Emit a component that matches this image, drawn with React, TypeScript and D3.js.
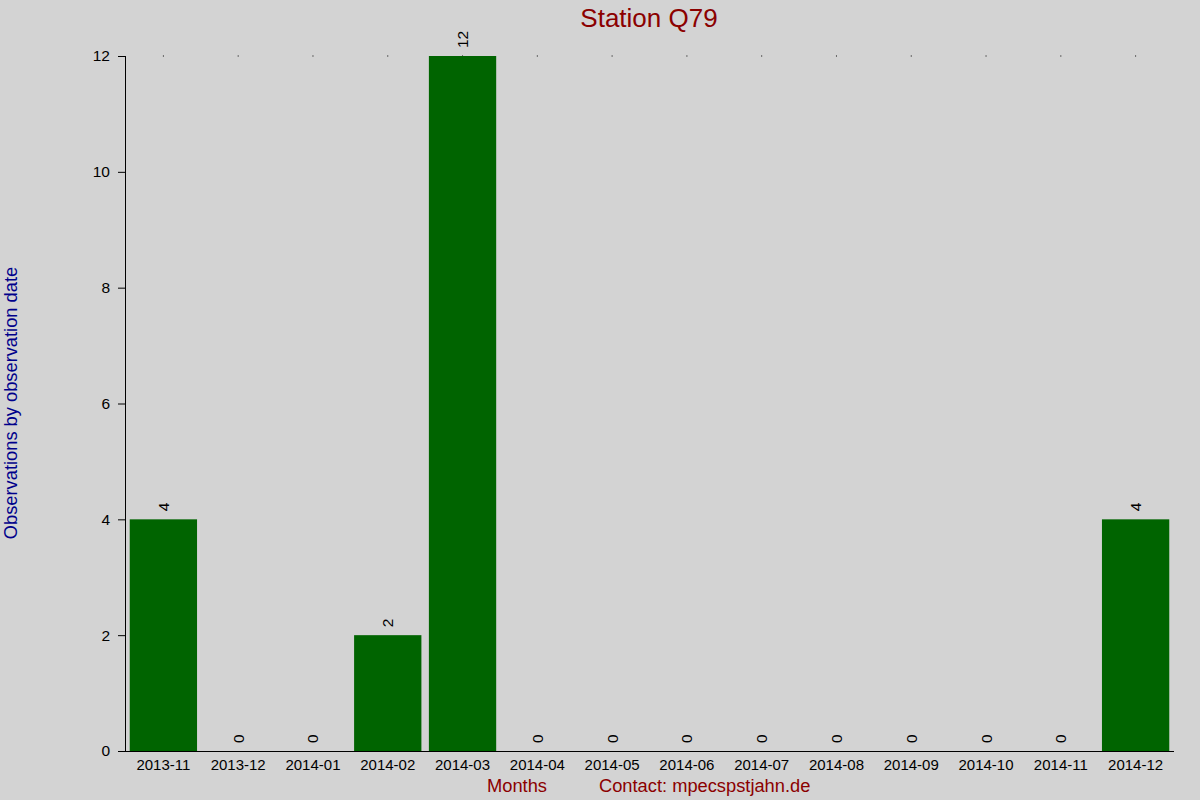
import { useEffect, useRef } from 'react'
import * as d3 from 'd3'

// monthly observation counts for station Q79
const MONTHS = [
  '2013-11', '2013-12', '2014-01', '2014-02', '2014-03', '2014-04', '2014-05',
  '2014-06', '2014-07', '2014-08', '2014-09', '2014-10', '2014-11', '2014-12',
]
const COUNTS = [4, 0, 0, 2, 12, 0, 0, 0, 0, 0, 0, 0, 0, 4]
const Y_TICKS = [0, 2, 4, 6, 8, 10, 12]

const FONT = 'Liberation Sans, Arial, sans-serif'

export default function App() {
  const svgRef = useRef<SVGSVGElement>(null)

  useEffect(() => {
    const svgEl = svgRef.current
    if (!svgEl) return
    const totalW = 1200
    const totalH = 800
    const margin = { top: 56, right: 27, bottom: 49, left: 126 }
    const W = totalW - margin.left - margin.right
    const H = totalH - margin.top - margin.bottom

    const root = d3.select(svgEl)
    root.selectAll('*').remove()
    root.attr('width', totalW).attr('height', totalH)

    root.append('rect').attr('width', totalW).attr('height', totalH).attr('fill', '#d3d3d3')

    const svg = root.append('g').attr('transform', `translate(${margin.left},${margin.top})`)

    const x = d3.scaleBand<string>().domain(MONTHS).range([0, W]).paddingInner(0.1).paddingOuter(0.05)
    const y = d3.scaleLinear().domain([0, 12]).range([H, 0])

    const data = MONTHS.map((m, i) => ({ m, v: COUNTS[i] }))

    // little dots at the top of each band
    svg.selectAll('.dot').data(data).enter().append('rect')
      .attr('x', d => x(d.m)! + x.bandwidth() / 2 - 0.5).attr('y', y(12) - 0.5)
      .attr('width', 1).attr('height', 1).attr('fill', '#000')

    svg.selectAll('.bar').data(data).enter().append('rect')
      .attr('x', d => x(d.m)!).attr('y', d => y(d.v))
      .attr('width', x.bandwidth()).attr('height', d => H - y(d.v))
      .attr('fill', '#006400')

    svg.selectAll('.val').data(data).enter().append('text')
      .attr('transform', d => `translate(${x(d.m)! + x.bandwidth() / 2 + 5.5},${y(d.v) - 8}) rotate(-90)`)
      .attr('font-family', FONT).attr('font-size', 15.5).attr('fill', '#000')
      .text(d => d.v)

    // axes
    svg.append('g')
      .attr('transform', `translate(0,${H})`)
      .call(d3.axisBottom(x).tickSize(0))
      .call(ax => {
        ax.select('.domain').attr('d', `M-8,0.5H${W + 1}`).attr('stroke', '#000')
        ax.selectAll('.tick text').attr('font-family', FONT).attr('font-size', 15)
          .attr('fill', '#000').attr('dy', '1.05em')
      })
    svg.append('g')
      .call(d3.axisLeft(y).tickValues(Y_TICKS).tickSize(8).tickSizeOuter(0))
      .call(ax => {
        ax.select('.domain').attr('d', `M-0.5,${H}V0`).attr('stroke', '#000')
        ax.selectAll('.tick line').attr('stroke', '#000')
        ax.selectAll('.tick text').attr('font-family', FONT).attr('font-size', 15.5)
          .attr('fill', '#000').attr('x', -16)
      })

    // titles
    root.append('text')
      .attr('x', 649).attr('y', 27).attr('text-anchor', 'middle')
      .attr('font-family', FONT).attr('font-size', 26).attr('fill', '#8b0000')
      .text('Station Q79')
    root.append('text')
      .attr('transform', `translate(17,403) rotate(-90)`).attr('text-anchor', 'middle')
      .attr('font-family', FONT).attr('font-size', 18.3).attr('fill', '#00008b')
      .text('Observations by observation date')
    root.append('text')
      .attr('x', 487).attr('y', 792)
      .attr('font-family', FONT).attr('font-size', 18.3).attr('fill', '#8b0000')
      .text('Months')
    root.append('text')
      .attr('x', 599).attr('y', 792)
      .attr('font-family', FONT).attr('font-size', 18.3).attr('fill', '#8b0000')
      .text('Contact: mpecspstjahn.de')
  }, [])

  return (
    <div style={{ position: 'absolute', left: 0, top: 0 }}>
      <svg ref={svgRef} style={{ display: 'block' }} />
    </div>
  )
}
